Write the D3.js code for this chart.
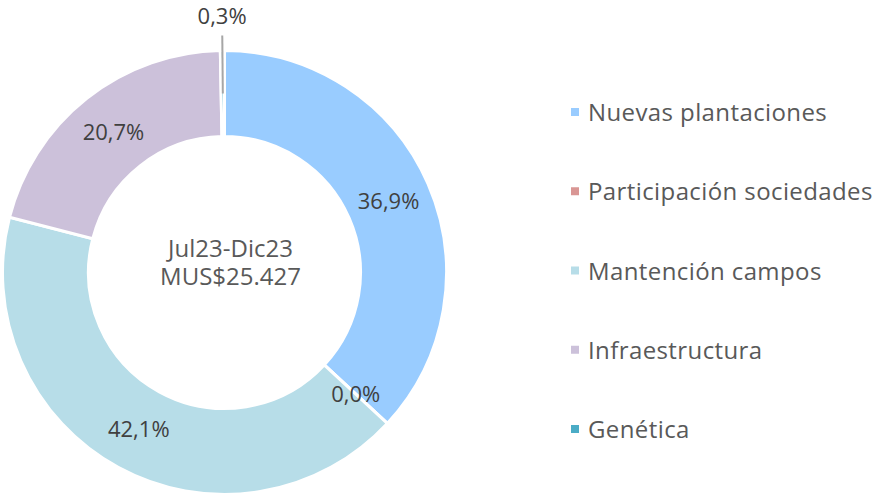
<!DOCTYPE html>
<html>
<head>
<meta charset="utf-8">
<script src="https://cdn.jsdelivr.net/npm/d3@7"></script>
<style>
  body { margin: 0; background: #fff; }
  text { font-family: "Open Sans", sans-serif; }
</style>
</head>
<body>
<script>
// categories in drawing order, clockwise from the top
var categories = ["Nuevas plantaciones", "Participación sociedades", "Mantención campos", "Infraestructura", "Genética"];
var shares = [36.9, 0.0, 42.1, 20.7, 0.3];
var labels = ["36,9%", "0,0%", "42,1%", "20,7%", "0,3%"];
var colors = ["#99ccff", "#d99694", "#b7dde8", "#ccc1da", "#4bacc6"];
var centerLines = ["Jul23-Dic23", "MUS$25.427"];

var width = 886, height = 496;
var cx = 224.5, cy = 272.5;
var outerR = 222, innerR = 136;

var svg = d3.select("body").append("svg")
    .attr("width", width)
    .attr("height", height);

var data = categories.map(function(c, i) {
    return { name: c, value: shares[i], label: labels[i], color: colors[i] };
});

var pie = d3.pie()
    .sort(null)
    .value(function(d) { return d.value; });

var arc = d3.arc()
    .innerRadius(innerR)
    .outerRadius(outerR);

var labelArc = d3.arc()
    .innerRadius((innerR + outerR) / 2)
    .outerRadius((innerR + outerR) / 2);

var g = svg.append("g")
    .attr("transform", "translate(" + cx + "," + cy + ")");

var arcs = pie(data);

g.selectAll("path.slice")
    .data(arcs)
    .enter().append("path")
    .attr("class", "slice")
    .attr("d", arc)
    .style("fill", function(d) { return d.data.color; })
    .style("stroke", "#fff")
    .style("stroke-width", 3);

// small slices get a leader line and sit outside the ring
var isOutside = function(d) { return d.data.value > 0 && d.data.value < 1; };

arcs.filter(isOutside).forEach(function(d) {
    var a = (d.startAngle + d.endAngle) / 2;
    var r0 = (innerR + outerR) / 2, r1 = outerR + 15;
    g.append("line")
        .attr("x1", r0 * Math.sin(a))
        .attr("y1", -r0 * Math.cos(a))
        .attr("x2", r1 * Math.sin(a))
        .attr("y2", -r1 * Math.cos(a))
        .style("stroke", "#a6a6a6")
        .style("stroke-width", 2);
    g.append("text")
        .attr("x", (r1 + 19) * Math.sin(a))
        .attr("y", -(r1 + 19) * Math.cos(a))
        .attr("dy", "0.35em")
        .attr("text-anchor", "middle")
        .style("font-size", "22px")
        .style("fill", "#404040")
        .text(d.data.label);
});

g.selectAll("text.lbl")
    .data(arcs.filter(function(d) { return !isOutside(d); }))
    .enter().append("text")
    .attr("class", "lbl")
    .attr("transform", function(d) { return "translate(" + labelArc.centroid(d) + ")"; })
    .attr("dy", "0.35em")
    .attr("text-anchor", "middle")
    .style("font-size", "22px")
    .style("fill", "#404040")
    .text(function(d) { return d.data.label; });

// center text, one block of two lines
g.append("text")
    .attr("class", "center")
    .attr("text-anchor", "middle")
    .style("font-size", "24px")
    .style("fill", "#595959")
    .selectAll("tspan")
    .data(centerLines)
    .enter().append("tspan")
    .attr("x", 6)
    .attr("y", function(d, i) { return -16 + i * 28; })
    .text(function(d) { return d; });

// legend
var legend = svg.append("g")
    .attr("transform", "translate(571,112)");

var item = legend.selectAll("g.item")
    .data(data)
    .enter().append("g")
    .attr("class", "item")
    .attr("transform", function(d, i) { return "translate(0," + i * 79.25 + ")"; });

item.append("rect")
    .attr("x", 0)
    .attr("y", -4)
    .attr("width", 8)
    .attr("height", 8)
    .style("fill", function(d) { return d.color; });

item.append("text")
    .attr("x", 17)
    .attr("y", 9)
    .style("font-size", "24px")
    .style("letter-spacing", "0.4px")
    .style("fill", "#595959")
    .text(function(d) { return d.name; });
</script>
</body>
</html>
